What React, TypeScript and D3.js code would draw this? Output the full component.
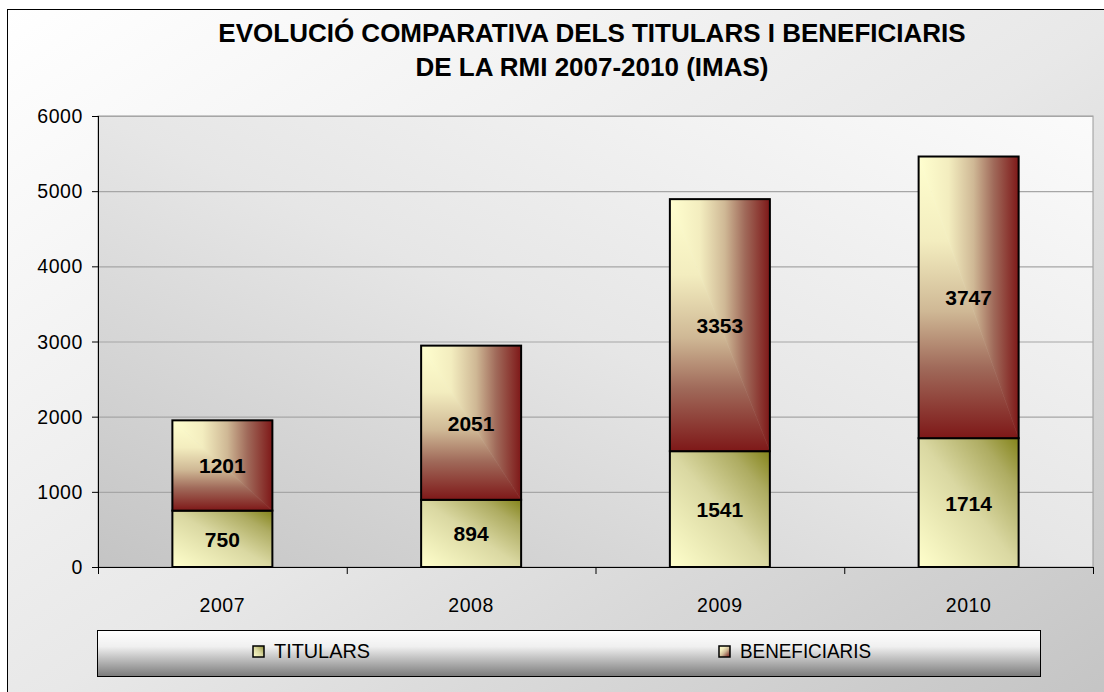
import React from "react";
import * as d3 from "d3";

const years = ["2007", "2008", "2009", "2010"];
const titulars = [750, 894, 1541, 1714];
const beneficiaris = [1201, 2051, 3353, 3747];
const yTicks = [0, 1000, 2000, 3000, 4000, 5000, 6000];
const titleLines = [
  "EVOLUCIÓ COMPARATIVA DELS TITULARS I BENEFICIARIS",
  "DE LA RMI 2007-2010 (IMAS)",
];
const legendItems = ["TITULARS", "BENEFICIARIS"];

const W = 1104;
const H = 692;
const plot = { left: 98, right: 1093, top: 116, bottom: 567 };
const FONT = "'Liberation Sans', Arial, sans-serif";

const benStops = [
  [0, "#ffffcf"],
  [0.3, "#f3edbf"],
  [0.55, "#cfb895"],
  [0.75, "#a06a5a"],
  [1, "#7e1818"],
];
const titStops = [
  [0, "#ffffcc"],
  [0.5, "#dad8a2"],
  [0.8, "#aeac62"],
  [1, "#84841a"],
];

function Grad({ id, stops, x1, y1, x2, y2 }: any) {
  return (
    <linearGradient id={id} x1={x1} y1={y1} x2={x2} y2={y2}>
      {stops.map((s: any, i: number) => (
        <stop key={i} offset={s[0]} stopColor={s[1]} />
      ))}
    </linearGradient>
  );
}

export default function App() {
  const x = d3
    .scaleBand<string>()
    .domain(years)
    .range([plot.left, plot.right])
    .paddingInner(0.598)
    .paddingOuter(0.299);
  const y = d3.scaleLinear().domain([0, 6000]).range([plot.bottom, plot.top]);
  const bw = x.bandwidth();
  const step = x.step();
  const boundaries = d3.range(years.length + 1).map((i) => plot.left + i * step);

  return (
    <svg
      width={W}
      height={H}
      style={{ position: "fixed", left: 0, top: 0, display: "block" }}
      fontFamily={FONT}
    >
      <defs>
        <linearGradient id="bg" x1="0" y1="0" x2="1" y2="1">
          <stop offset="0" stopColor="#ffffff" />
          <stop offset="0.5" stopColor="#e8e8e8" />
          <stop offset="1" stopColor="#c2c2c2" />
        </linearGradient>
        <linearGradient id="plotbg" x1="0" y1="1" x2="1" y2="0">
          <stop offset="0" stopColor="#c4c4c4" />
          <stop offset="0.5" stopColor="#e6e6e6" />
          <stop offset="1" stopColor="#fbfbfb" />
        </linearGradient>
        <linearGradient id="legbg" x1="0" y1="0" x2="0" y2="1">
          <stop offset="0" stopColor="#ffffff" />
          <stop offset="0.35" stopColor="#f0f0f0" />
          <stop offset="0.7" stopColor="#b0b0b0" />
          <stop offset="1" stopColor="#7a7a7a" />
        </linearGradient>
        <Grad id="benH" stops={benStops} x1="0" y1="0" x2="1" y2="0" />
        <Grad id="benV" stops={benStops} x1="0" y1="0" x2="0" y2="1" />
        <Grad id="titD" stops={titStops} x1="0" y1="1" x2="1" y2="0" />
        <Grad id="benSw" stops={benStops} x1="0" y1="0" x2="1" y2="1" />
      </defs>

      <rect x={7.5} y={9.5} width={W + 20} height={H + 20} fill="url(#bg)" stroke="#000" strokeWidth={1} />

      {titleLines.map((t, i) => (
        <text
          key={i}
          x={592}
          y={42 + i * 34}
          textAnchor="middle"
          fontSize={26}
          fontWeight="bold"
          fill="#000"
        >
          {t}
        </text>
      ))}

      <rect
        x={plot.left}
        y={plot.top}
        width={plot.right - plot.left}
        height={plot.bottom - plot.top}
        fill="url(#plotbg)"
        stroke="#9a9a9a"
        strokeWidth={1}
      />

      {yTicks.slice(1).map((t) => (
        <line key={t} x1={plot.left} x2={plot.right} y1={y(t) + 0.5} y2={y(t) + 0.5} stroke="#a6a6a6" strokeWidth={1.2} />
      ))}

      {years.map((yr, i) => {
        const x0 = x(yr)!;
        const x1 = x0 + bw;
        const yb0 = y(0);
        const yb1 = y(titulars[i]);
        const yb2 = y(titulars[i] + beneficiaris[i]);
        const benUR = `M${x0},${yb2} L${x1},${yb2} L${x1},${yb1} Z`;
        const benLL = `M${x0},${yb2} L${x1},${yb1} L${x0},${yb1} Z`;
        return (
          <g key={yr}>
            <rect x={x0} y={yb1} width={bw} height={yb0 - yb1} fill="url(#titD)" stroke="#000" strokeWidth={2} />
            <path d={benUR} fill="url(#benH)" stroke="url(#benH)" strokeWidth={0.6} />
            <path d={benLL} fill="url(#benV)" stroke="url(#benV)" strokeWidth={0.6} />
            <rect x={x0} y={yb2} width={bw} height={yb1 - yb2} fill="none" stroke="#000" strokeWidth={2} />
            <text x={x0 + bw / 2} y={(yb0 + yb1) / 2 + 8} textAnchor="middle" fontSize={21} fontWeight="bold">
              {titulars[i]}
            </text>
            <text x={x0 + bw / 2} y={(yb1 + yb2) / 2 + 8} textAnchor="middle" fontSize={21} fontWeight="bold">
              {beneficiaris[i]}
            </text>
          </g>
        );
      })}

      <line x1={plot.left + 0.5} x2={plot.left + 0.5} y1={plot.top} y2={plot.bottom} stroke="#000" strokeWidth={1} />
      <line x1={plot.left} x2={plot.right} y1={plot.bottom + 0.5} y2={plot.bottom + 0.5} stroke="#000" strokeWidth={1} />
      {yTicks.map((t) => (
        <g key={t}>
          <line x1={plot.left - 6} x2={plot.left} y1={y(t) + 0.5} y2={y(t) + 0.5} stroke="#000" />
          <text x={83} y={y(t) + 7} textAnchor="end" fontSize={19.5} letterSpacing={0.6}>
            {t}
          </text>
        </g>
      ))}
      {boundaries.map((b, i) => (
        <line key={i} x1={b + 0.5} x2={b + 0.5} y1={plot.bottom} y2={plot.bottom + 7} stroke="#000" />
      ))}
      {years.map((yr) => (
        <text key={yr} x={x(yr)! + bw / 2} y={612} textAnchor="middle" fontSize={19.5} letterSpacing={0.6}>
          {yr}
        </text>
      ))}

      <rect x={97.5} y={630.5} width={943} height={46} fill="url(#legbg)" stroke="#000" strokeWidth={1} />
      {legendItems.map((l, i) => {
        const lx = i === 0 ? 253 : 719;
        const tl = i === 0 ? 96 : 131;
        return (
          <g key={l}>
            <rect x={lx} y={646} width={11} height={11} fill={i === 0 ? "url(#titD)" : "url(#benSw)"} stroke="#000" strokeWidth={1.5} />
            <text x={lx + 21} y={658} fontSize={20} textLength={tl} lengthAdjust="spacingAndGlyphs">
              {l}
            </text>
          </g>
        );
      })}
    </svg>
  );
}
